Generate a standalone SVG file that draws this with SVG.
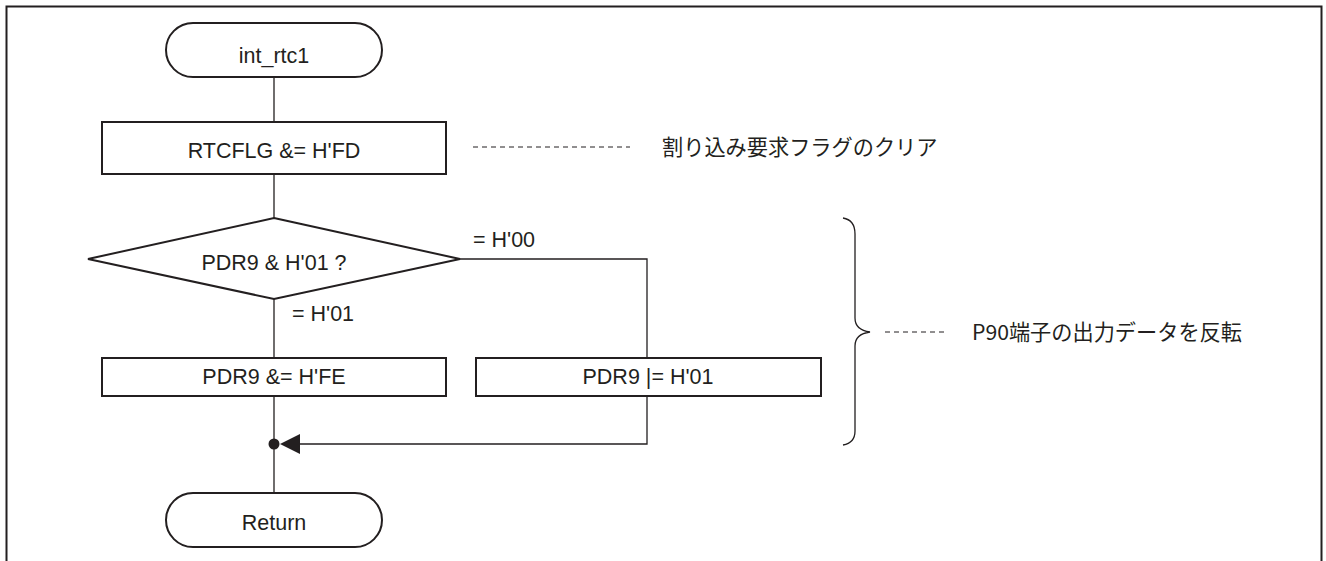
<svg xmlns="http://www.w3.org/2000/svg" width="1326" height="561" viewBox="0 0 1326 561">
<style>
.shape{fill:#fff;stroke:#231f20;stroke-width:2}
.line{fill:none;stroke:#231f20;stroke-width:1.3}
.dash{fill:none;stroke:#231f20;stroke-width:1;stroke-dasharray:5,4}
.t{font-family:"Liberation Sans",Arial,sans-serif;font-size:21.5px;fill:#231f20}
.c{text-anchor:middle}
.j{font-family:"Noto Sans CJK JP","Liberation Sans",sans-serif;font-size:21.2px;fill:#231f20}
</style>
<rect x="0" y="0" width="1326" height="561" fill="#fff"/>
<path d="M6.5,561 V6.5 H1321.5 V561" fill="none" stroke="#231f20" stroke-width="2"/>
<g id="connectors">
<line class="line" x1="274" y1="77" x2="274" y2="122"/>
<line class="line" x1="274" y1="174" x2="274" y2="218"/>
<line class="line" x1="274" y1="299" x2="274" y2="358"/>
<polyline class="line" points="460,259 647,259 647,358"/>
<line class="line" x1="274" y1="396" x2="274" y2="493"/>
<polyline class="line" points="647,396 647,444 296,444"/>
<polygon points="280,444 300,434 300,454" fill="#231f20"/>
<circle cx="274" cy="444" r="5.5" fill="#231f20"/>
<text class="t" x="473" y="247">= H'00</text>
<text class="t" x="292" y="321">= H'01</text>
</g>
<g id="start">
<rect class="shape" x="166" y="23" width="216" height="54" rx="27" ry="27"/>
<text class="t c" x="274" y="63">int_rtc1</text>
</g>
<g id="clear">
<rect class="shape" x="102" y="122" width="344" height="52"/>
<text class="t c" x="274" y="158">RTCFLG &amp;= H'FD</text>
</g>
<g id="decision">
<polygon class="shape" points="274,218 460,259 274,299 88,259"/>
<text class="t c" x="274" y="270">PDR9 &amp; H'01 ?</text>
</g>
<g id="clearbit">
<rect class="shape" x="102" y="358" width="344" height="38"/>
<text class="t c" x="274" y="384">PDR9 &amp;= H'FE</text>
</g>
<g id="setbit">
<rect class="shape" x="476" y="358" width="345" height="38"/>
<text class="t c" x="648" y="384">PDR9 |= H'01</text>
</g>
<g id="end">
<rect class="shape" x="166" y="493" width="216" height="54" rx="27" ry="27"/>
<text class="t c" x="274" y="530">Return</text>
</g>
<g id="note1">
<line class="dash" x1="473" y1="147" x2="630" y2="147"/>
<text class="j" x="662" y="155">割り込み要求フラグのクリア</text>
</g>
<g id="note2">
<path class="line" d="M843,218 Q855,220 855,234 V318 Q855,330 870,332 Q855,334 855,346 V431 Q855,443 843,445"/>
<line class="dash" x1="885" y1="332" x2="945" y2="332"/>
<text class="j" x="972" y="340">P90端子の出力データを反転</text>
</g>
</svg>
